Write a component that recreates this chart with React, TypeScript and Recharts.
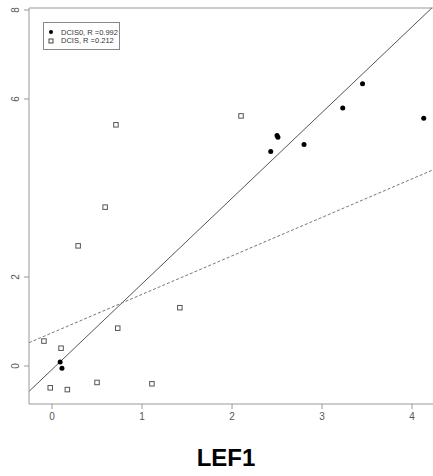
import React from "react"
import {
  ScatterChart,
  Scatter,
  XAxis,
  YAxis,
  ReferenceLine,
} from "recharts"

const seriesNames = ["DCIS0", "DCIS"]
const rValues = ["0.992", "0.212"]

const dcis0X = [0.09, 0.11, 2.43, 2.5, 2.51, 2.8, 3.23, 3.45, 4.13]
const dcis0Y = [0.09, -0.05, 4.82, 5.18, 5.14, 4.98, 5.8, 6.34, 5.57]

const dcisX = [-0.09, 0.1, -0.02, 0.17, 0.5, 1.11, 0.29, 0.59, 0.71, 0.73, 1.42, 2.1]
const dcisY = [0.56, 0.4, -0.49, -0.53, -0.37, -0.4, 2.7, 3.57, 5.42, 0.85, 1.31, 5.62]

// fitted lines: [slope, intercept]
const fitDcis0 = [1.925, -0.078]
const fitDcis = [0.865, 0.745]

const xTicks = [0, 1, 2, 3, 4]
const yTicks = [0, 2, 6, 8]

const X_MIN = -0.256
const X_MAX = 4.233
const Y_MIN = -0.854
const Y_MAX = 8.045

const toPoints = (xs: number[], ys: number[]) => xs.map((x, i) => ({ x, y: ys[i] }))

// clip a fitted line to the plot box
function segmentFor([m, b]: number[]) {
  const pts: { x: number; y: number }[] = []
  const cand = [
    { x: X_MIN, y: m * X_MIN + b },
    { x: X_MAX, y: m * X_MAX + b },
    { x: (Y_MIN - b) / m, y: Y_MIN },
    { x: (Y_MAX - b) / m, y: Y_MAX },
  ]
  for (const p of cand) {
    if (p.x >= X_MIN - 1e-9 && p.x <= X_MAX + 1e-9 && p.y >= Y_MIN - 1e-9 && p.y <= Y_MAX + 1e-9) {
      pts.push(p)
    }
  }
  pts.sort((a, b2) => a.x - b2.x)
  return [pts[0], pts[pts.length - 1]]
}

const font = "'Liberation Sans', Arial, sans-serif"
const axisGray = "#999"
const labelGray = "#555"

const Dot = (props: any) => <circle cx={props.cx} cy={props.cy} r={2.5} fill="#000" />
const Square = (props: any) => (
  <rect x={props.cx - 2.25} y={props.cy - 2.25} width={4.5} height={4.5} fill="#fff" stroke="#555" strokeWidth={1} />
)

const YTick = (props: any) => {
  const { y, payload } = props
  return (
    <text
      x={16}
      y={y}
      transform={`rotate(-90, 16, ${y})`}
      textAnchor="middle"
      dominantBaseline="central"
      fontSize={10}
      fontFamily={font}
      fill={labelGray}
    >
      {payload.value}
    </text>
  )
}

export default function App() {
  const seg0 = segmentFor(fitDcis0)
  const seg1 = segmentFor(fitDcis)
  return (
    <div style={{ position: "absolute", left: 0, top: 0, width: 433, height: 476, background: "#fff" }}>
      <ScatterChart width={433} height={476} margin={{ top: 8, right: 0, left: 0, bottom: 0 }}>
        <XAxis
          type="number"
          dataKey="x"
          domain={[X_MIN, X_MAX]}
          ticks={xTicks}
          height={72}
          tickSize={5}
          tickMargin={4}
          stroke={axisGray}
          tick={{ fontSize: 10, fontFamily: font, fill: labelGray }}
          label={{
            value: "LEF1",
            position: "insideBottom",
            offset: 10,
            dx: -5,
            style: { fontSize: 24, fontWeight: "bold", fontFamily: font, fill: "#000" },
          }}
        />
        <YAxis
          type="number"
          dataKey="y"
          domain={[Y_MIN, Y_MAX]}
          ticks={yTicks}
          width={29}
          tickSize={5}
          stroke={axisGray}
          tick={<YTick />}
        />
        <ReferenceLine y={Y_MAX} stroke={axisGray} ifOverflow="visible" />
        <ReferenceLine segment={seg0} stroke="#555" strokeWidth={1} ifOverflow="visible" />
        <ReferenceLine segment={seg1} stroke="#777" strokeWidth={1} strokeDasharray="3 2" ifOverflow="visible" />
        <Scatter name={seriesNames[0]} data={toPoints(dcis0X, dcis0Y)} shape={<Dot />} isAnimationActive={false} />
        <Scatter name={seriesNames[1]} data={toPoints(dcisX, dcisY)} shape={<Square />} isAnimationActive={false} />
      </ScatterChart>
      <div
        style={{
          position: "absolute",
          left: 43,
          top: 22,
          width: 77,
          height: 28,
          border: "1px solid #888",
          background: "#fff",
          fontFamily: font,
          fontSize: 7.5,
          color: "#333",
          boxSizing: "border-box",
        }}
      >
        {seriesNames.map((name, i) => (
          <div key={name} style={{ position: "absolute", left: 3, top: 5 + i * 8.5, height: 8, display: "flex", alignItems: "center" }}>
            <svg width={10} height={8}>
              {i === 0 ? (
                <circle cx={4} cy={4} r={2} fill="#000" />
              ) : (
                <rect x={2} y={2} width={4} height={4} fill="#fff" stroke="#444" />
              )}
            </svg>
            <span style={{ marginLeft: 4, whiteSpace: "nowrap" }}>{`${name}, R =${rValues[i]}`}</span>
          </div>
        ))}
      </div>
    </div>
  )
}
